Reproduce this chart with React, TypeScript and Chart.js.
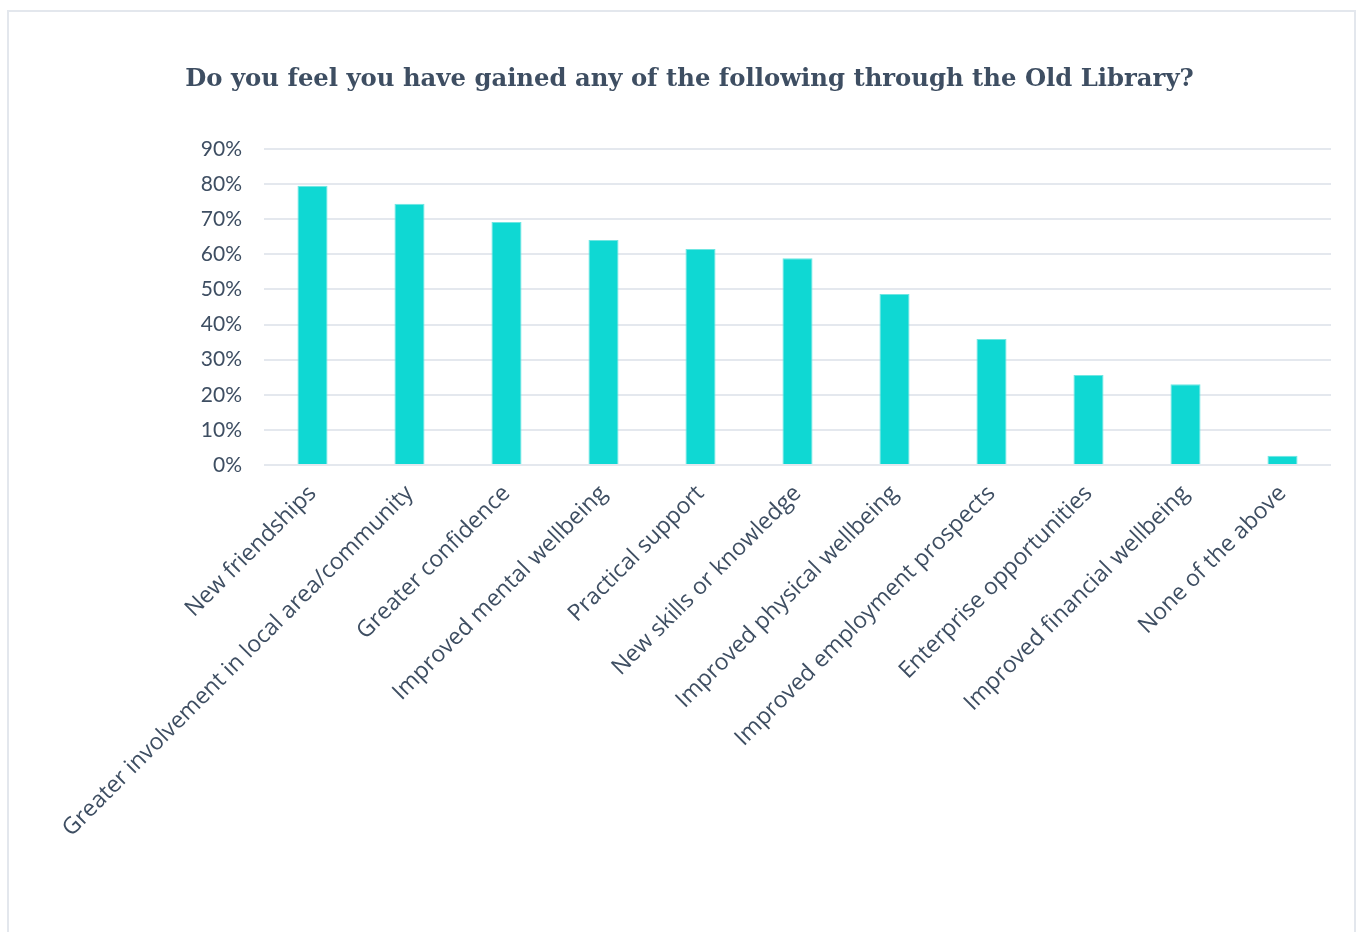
import React, { useEffect, useRef } from "react";
import { Chart, registerables } from "chart.js";

Chart.register(...registerables);

const titleText = "Do you feel you have gained any of the following through the Old Library?";
const categories = [
  "New friendships",
  "Greater involvement in local area/community",
  "Greater confidence",
  "Improved mental wellbeing",
  "Practical support",
  "New skills or knowledge",
  "Improved physical wellbeing",
  "Improved employment prospects",
  "Enterprise opportunities",
  "Improved financial wellbeing",
  "None of the above",
];
const values = [79.5, 74.4, 69.2, 64.1, 61.5, 58.9, 48.7, 35.9, 25.6, 23.0, 2.6];
const yTickMin = 0;
const yTickMax = 90;
const yTickStep = 10;

const W = 1361;
const H = 932;
const textColor = "#3e4e62";

export default function App() {
  const ref = useRef<HTMLCanvasElement | null>(null);
  useEffect(() => {
    document.body.style.overflow = "hidden";
    const ctx = ref.current!;
    const chart = new Chart(ctx, {
      type: "bar",
      data: {
        labels: categories,
        datasets: [
          {
            data: values,
            backgroundColor: "#0fd8d3",
            borderColor: "#6fe6e2",
            borderWidth: 1,
            categoryPercentage: 1,
            barPercentage: 0.31,
          },
        ],
      },
      options: {
        responsive: false,
        animation: false,
        layout: { padding: { left: 48, right: 30, top: 0, bottom: 0 } },
        plugins: {
          legend: { display: false },
          tooltip: { enabled: false },
          title: {
            display: true,
            text: titleText,
            color: textColor,
            font: { family: "'DejaVu Serif', serif", size: 24.3, weight: "bold", lineHeight: 1.2 },
            padding: { top: 65, bottom: 54.8 },
          },
        },
        scales: {
          x: {
            grid: { display: false, drawTicks: false },
            border: { display: false },
            ticks: {
              color: textColor,
              font: { family: "'Open Sans', sans-serif", size: 23 },
              minRotation: 45,
              maxRotation: 45,
              autoSkip: false,
              padding: 15,
            },
            afterFit: (s: any) => {
              s.height = H - 465;
            },
          },
          y: {
            min: yTickMin,
            max: yTickMax,
            grid: { color: "#e4e8ee", lineWidth: 2, drawTicks: false },
            border: { display: false },
            ticks: {
              stepSize: yTickStep,
              color: textColor,
              font: { family: "Lato, sans-serif", size: 21 },
              padding: 22,
              callback: (v: any) => v + "%",
            },
            afterFit: (s: any) => {
              s.width = 264 - 48;
            },
          },
        },
      },
    });
    return () => chart.destroy();
  }, []);
  return (
    <div style={{ position: "fixed", left: 0, top: 0, width: W, height: H, overflow: "hidden", background: "#fff" }}>
      <div
        style={{
          position: "absolute",
          left: 7,
          top: 10,
          width: 1345,
          height: 1000,
          border: "2px solid #e3e7ed",
        }}
      />
      <canvas ref={ref} width={W} height={H} style={{ position: "absolute", left: 0, top: 0, width: W, height: H }} />
    </div>
  );
}
